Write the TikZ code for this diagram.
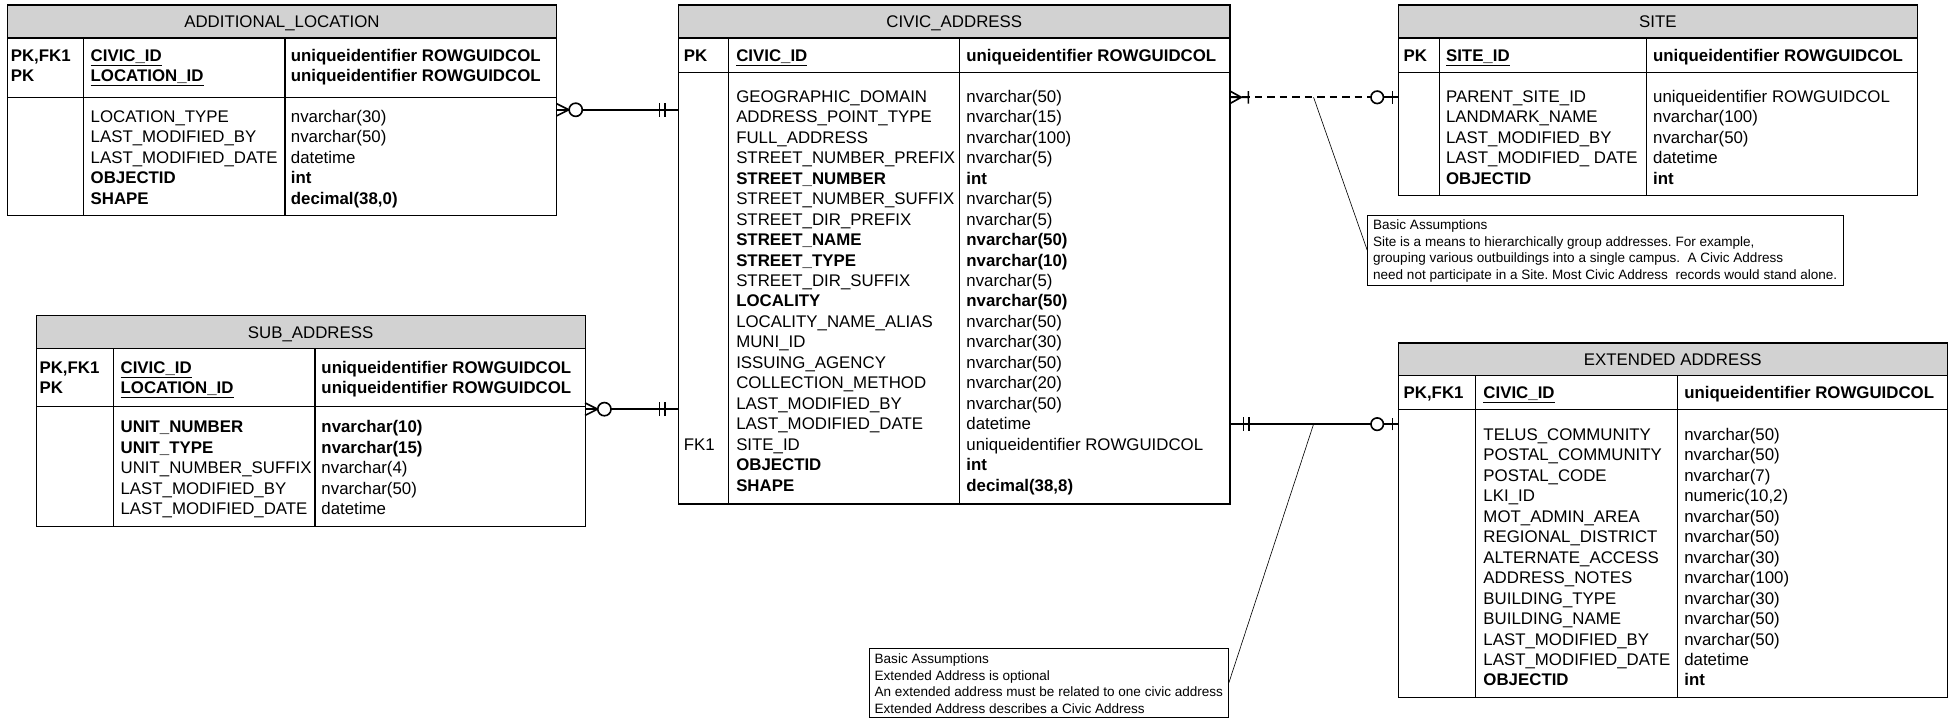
\documentclass[tikz,border=0pt]{standalone}
\usepackage{fontspec}
\setmainfont{Liberation Sans}
\newcommand{\pkname}[1]{\underline{\textbf{#1}}}
\newcommand{\rowfont}{\fontsize{13.5}{16.4}\selectfont}
\newcommand{\notefont}{\fontsize{10.85}{13.4}\selectfont\frenchspacing}

\begin{document}
\begin{tikzpicture}[x=1pt,y=-1pt,
  entity/.style={draw,line width=0.9pt,inner sep=0pt,outer sep=0pt,anchor=north west},
  hdr/.style={fill=gray!35},
  divline/.style={line width=0.9pt},
  enttitle/.style={anchor=base,inner sep=0pt,font=\rowfont},
  fieldcol/.style={anchor=north west,inner sep=0pt,align=left,font=\rowfont},
  note/.style={draw,line width=0.6pt,anchor=north west,align=left,inner sep=0pt,font=\notefont},
  rel/.style={line width=1.3pt},
  lead/.style={line width=0.5pt},
  zeromany/.pic={\draw[solid,line width=1.3pt] (0,-5) -- (10,0) -- (0,5);
    \draw[solid,line width=1.3pt,fill=white] (15.5,0) circle (5.3);},
  onlyone/.pic={\draw[solid,line width=1.3pt] (10.7,-5.5) -- (10.7,5.5) (15.2,-5.5) -- (15.2,5.5);},
  onemany/.pic={\draw[solid,line width=1.3pt] (0,0) -- (15,0) (0,-5) -- (9,0) -- (0,5) (14.7,-5) -- (14.7,5);},
  zeroone/.pic={\draw[solid,line width=1.3pt] (0,0) -- (12,0) (4.8,-5) -- (4.8,5);
    \draw[solid,line width=1.3pt,fill=white] (17,0) circle (5);}]
\useasboundingbox (0,0) rectangle (1568,575);

% ADDITIONAL_LOCATION
\fill[hdr] (6,4) rectangle (446,30.5);
\node[entity,minimum width=440pt,minimum height=169pt] (addloc) at (6,4) {};
\draw[divline] (6,30.5) -- (446,30.5) (6,78) -- (446,78) (67,30.5) -- (67,173) (228.5,30.5) -- (228.5,173);
\node[enttitle] (addloc-t) at (226,22.1) {ADDITIONAL\_LOCATION};
\node[fieldcol] (addloc-k) at (8.5,37.4) {\strut\textbf{PK,FK1}\\\textbf{PK}};
\node[fieldcol] (addloc-kn) at (72.5,37.4) {\strut\pkname{CIVIC\_ID}\\\pkname{LOCATION\_ID}};
\node[fieldcol] (addloc-kt) at (233,37.4) {\strut\textbf{uniqueidentifier ROWGUIDCOL}\\\textbf{uniqueidentifier ROWGUIDCOL}};
\node[fieldcol] (addloc-n) at (72.5,86.4) {\strut LOCATION\_TYPE\\LAST\_MODIFIED\_BY\\LAST\_MODIFIED\_DATE\\\textbf{OBJECTID}\\\textbf{SHAPE}};
\node[fieldcol] (addloc-ty) at (233,86.4) {\strut nvarchar(30)\\nvarchar(50)\\datetime\\\textbf{int}\\\textbf{decimal(38,0)}};

% SUB_ADDRESS
\fill[hdr] (29,253) rectangle (469,279.5);
\node[entity,minimum width=440pt,minimum height=169pt] (sub) at (29,253) {};
\draw[divline] (29,279.5) -- (469,279.5) (29,326) -- (469,326) (91,279.5) -- (91,422) (252.5,279.5) -- (252.5,422);
\node[enttitle] (sub-t) at (249,271.1) {SUB\_ADDRESS};
\node[fieldcol] (sub-k) at (31.5,287.4) {\strut\textbf{PK,FK1}\\\textbf{PK}};
\node[fieldcol] (sub-kn) at (96.5,287.4) {\strut\pkname{CIVIC\_ID}\\\pkname{LOCATION\_ID}};
\node[fieldcol] (sub-kt) at (257.5,287.4) {\strut\textbf{uniqueidentifier ROWGUIDCOL}\\\textbf{uniqueidentifier ROWGUIDCOL}};
\node[fieldcol] (sub-n) at (96.5,335.4) {\strut\textbf{UNIT\_NUMBER}\\\textbf{UNIT\_TYPE}\\UNIT\_NUMBER\_SUFFIX\\LAST\_MODIFIED\_BY\\LAST\_MODIFIED\_DATE};
\node[fieldcol] (sub-ty) at (257.5,335.4) {\strut\textbf{nvarchar(10)}\\\textbf{nvarchar(15)}\\nvarchar(4)\\nvarchar(50)\\datetime};

% CIVIC_ADDRESS
\fill[hdr] (544,4) rectangle (986,30.5);
\node[entity,minimum width=442pt,minimum height=400pt] (civic) at (544,4) {};
\draw[divline] (544,30.5) -- (986,30.5) (544,58) -- (986,58) (584,30.5) -- (584,404) (769,30.5) -- (769,404);
\node[enttitle] (civic-t) at (765,22.1) {CIVIC\_ADDRESS};
\node[fieldcol] (civic-k) at (548,37.6) {\strut\textbf{PK}};
\node[fieldcol] (civic-kn) at (590,37.6) {\strut\pkname{CIVIC\_ID}};
\node[fieldcol] (civic-kt) at (774.5,37.6) {\strut\textbf{uniqueidentifier ROWGUIDCOL}};
\node[fieldcol] (civic-fk) at (548,349.2) {\strut FK1};
\node[fieldcol] (civic-n) at (590,70.4) {\strut GEOGRAPHIC\_DOMAIN\\ADDRESS\_POINT\_TYPE\\FULL\_ADDRESS\\STREET\_NUMBER\_PREFIX\\\textbf{STREET\_NUMBER}\\STREET\_NUMBER\_SUFFIX\\STREET\_DIR\_PREFIX\\\textbf{STREET\_NAME}\\\textbf{STREET\_TYPE}\\STREET\_DIR\_SUFFIX\\\textbf{LOCALITY}\\LOCALITY\_NAME\_ALIAS\\MUNI\_ID\\ISSUING\_AGENCY\\COLLECTION\_METHOD\\LAST\_MODIFIED\_BY\\LAST\_MODIFIED\_DATE\\SITE\_ID\\\textbf{OBJECTID}\\\textbf{SHAPE}};
\node[fieldcol] (civic-ty) at (774.5,70.4) {\strut nvarchar(50)\\nvarchar(15)\\nvarchar(100)\\nvarchar(5)\\\textbf{int}\\nvarchar(5)\\nvarchar(5)\\\textbf{nvarchar(50)}\\\textbf{nvarchar(10)}\\nvarchar(5)\\\textbf{nvarchar(50)}\\nvarchar(50)\\nvarchar(30)\\nvarchar(50)\\nvarchar(20)\\nvarchar(50)\\datetime\\uniqueidentifier ROWGUIDCOL\\\textbf{int}\\\textbf{decimal(38,8)}};

% SITE
\fill[hdr] (1121,4) rectangle (1537,30.5);
\node[entity,minimum width=416pt,minimum height=153pt] (site) at (1121,4) {};
\draw[divline] (1121,30.5) -- (1537,30.5) (1121,58) -- (1537,58) (1154,30.5) -- (1154,157) (1320,30.5) -- (1320,157);
\node[enttitle] (site-t) at (1329,22.1) {SITE};
\node[fieldcol] (site-k) at (1125,37.6) {\strut\textbf{PK}};
\node[fieldcol] (site-kn) at (1159,37.6) {\strut\pkname{SITE\_ID}};
\node[fieldcol] (site-kt) at (1325,37.6) {\strut\textbf{uniqueidentifier ROWGUIDCOL}};
\node[fieldcol] (site-n) at (1159,70.4) {\strut PARENT\_SITE\_ID\\LANDMARK\_NAME\\LAST\_MODIFIED\_BY\\LAST\_MODIFIED\_ DATE\\\textbf{OBJECTID}};
\node[fieldcol] (site-ty) at (1325,70.4) {\strut uniqueidentifier ROWGUIDCOL\\nvarchar(100)\\nvarchar(50)\\datetime\\\textbf{int}};

% EXTENDED ADDRESS
\fill[hdr] (1121,275) rectangle (1561,301);
\node[entity,minimum width=440pt,minimum height=284pt] (ext) at (1121,275) {};
\draw[divline] (1121,301) -- (1561,301) (1121,328) -- (1561,328) (1183,301) -- (1183,559) (1345,301) -- (1345,559);
\node[enttitle] (ext-t) at (1341,292.8) {EXTENDED ADDRESS};
\node[fieldcol] (ext-k) at (1125,307.9) {\strut\textbf{PK,FK1}};
\node[fieldcol] (ext-kn) at (1189,307.9) {\strut\pkname{CIVIC\_ID}};
\node[fieldcol] (ext-kt) at (1350,307.9) {\strut\textbf{uniqueidentifier ROWGUIDCOL}};
\node[fieldcol] (ext-n) at (1189,341.4) {\strut TELUS\_COMMUNITY\\POSTAL\_COMMUNITY\\POSTAL\_CODE\\LKI\_ID\\MOT\_ADMIN\_AREA\\REGIONAL\_DISTRICT\\ALTERNATE\_ACCESS\\ADDRESS\_NOTES\\BUILDING\_TYPE\\BUILDING\_NAME\\LAST\_MODIFIED\_BY\\LAST\_MODIFIED\_DATE\\\textbf{OBJECTID}};
\node[fieldcol] (ext-ty) at (1350,341.4) {\strut nvarchar(50)\\nvarchar(50)\\nvarchar(7)\\numeric(10,2)\\nvarchar(50)\\nvarchar(50)\\nvarchar(30)\\nvarchar(100)\\nvarchar(30)\\nvarchar(50)\\nvarchar(50)\\datetime\\\textbf{int}};

% notes
\node[note,minimum width=381pt,minimum height=56.5pt] (sitenote) at (1096,172) {\strut Basic Assumptions\\Site is a means to hierarchically group addresses. For example,\\grouping various outbuildings into a single campus.~ A Civic Address\\need not participate in a Site. Most Civic Address~ records would stand alone.};
\node[note,minimum width=288pt,minimum height=55pt] (extnote) at (696.5,519.5) {\strut Basic Assumptions\\Extended Address is optional\\An extended address must be related to one civic address\\Extended Address describes a Civic Address};

% relationships
\draw[rel] (addloc.east |- 0,88) -- (civic.west |- 0,88);
\pic at (addloc.east |- 0,88) {zeromany};
\pic[rotate=180] at (civic.west |- 0,88) {onlyone};
\draw[rel] (sub.east |- 0,328) -- (civic.west |- 0,328);
\pic at (sub.east |- 0,328) {zeromany};
\pic[rotate=180] at (civic.west |- 0,328) {onlyone};
\draw[rel,dash pattern=on 6pt off 4pt] (civic.east |- 0,78) -- (site.west |- 0,78);
\pic at (civic.east |- 0,78) {onemany};
\pic[rotate=180] at (site.west |- 0,78) {zeroone};
\draw[rel] (civic.east |- 0,340) -- (ext.west |- 0,340);
\pic at (civic.east |- 0,340) {onlyone};
\pic[rotate=180] at (ext.west |- 0,340) {zeroone};

\coordinate (siteref) at (1053,78);
\coordinate (extref) at (1053,340);
\draw[lead] (siteref) -- (sitenote.west);
\draw[lead] (extref) -- (extnote.east);
\end{tikzpicture}
\end{document}
